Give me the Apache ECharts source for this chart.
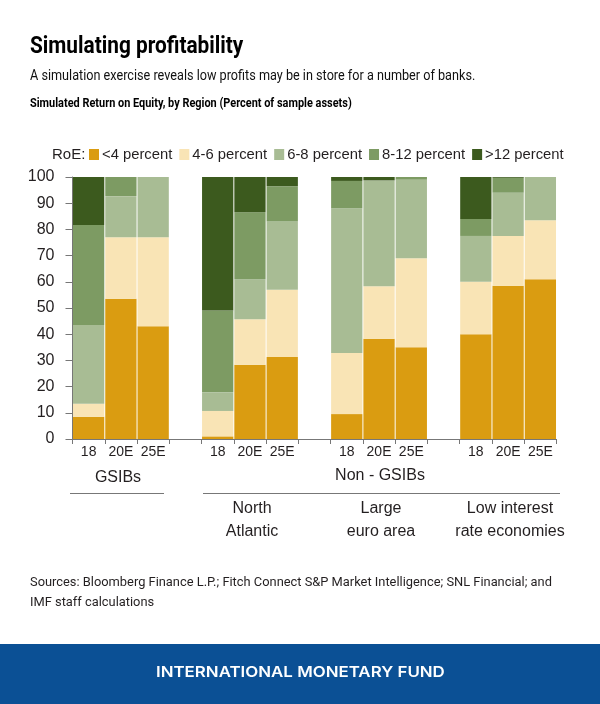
<!DOCTYPE html>
<html>
<head>
<meta charset="utf-8">
<title>Simulating profitability</title>
<script src="https://cdn.jsdelivr.net/npm/echarts@6/dist/echarts.min.js"></script>
<style>
  html, body { margin: 0; padding: 0; background: #fff; }
  #chart { width: 600px; height: 704px; }
</style>
</head>
<body>
<div id="chart"></div>
<script>
// empty slots keep the gaps between the bank groups
const categories = ['18', '20E', '25E', '', '18', '20E', '25E', '', '18', '20E', '25E', '', '18', '20E', '25E'];

const under4 = [8.5, 53.5, 43, null, 1, 28.3, 31.3, null, 9.5, 38.3, 35, null, 40, 58.5, 61];
const from4to6 = [5, 23.5, 34, null, 9.7, 17.4, 25.7, null, 23.3, 20, 34, null, 20, 19, 22.5];
const from6to8 = [30, 15.7, 23, null, 7.1, 15.3, 26, null, 55.2, 40.4, 30, null, 17.5, 16.5, 16.5];
const from8to12 = [38.2, 7.3, 0, null, 31.2, 25.5, 13.5, null, 10.5, 0, 1, null, 6.5, 5.7, 0];
const over12 = [18.3, 0, 0, null, 51, 13.5, 3.5, null, 1.5, 1.3, 0, null, 16, 0.3, 0];

const seriesNames = ['<4 percent', '4-6 percent', '6-8 percent', '8-12 percent', '>12 percent'];
const seriesValues = [under4, from4to6, from6to8, from8to12, over12];
const seriesColors = ['#da9c11', '#f9e4b5', '#a8bc94', '#7d9b63', '#3c5a1e'];

const yTicks = [0, 10, 20, 30, 40, 50, 60, 70, 80, 90, 100];

const chart = echarts.init(document.getElementById('chart'));

const ink = '#231f20';
const axisGrey = '#777777';
const chartFont = '"Liberation Sans", Arial, sans-serif';

// plain text helper for everything outside the plot
function label(text, x, y, font, extra) {
    return {
        type: 'text',
        x: x,
        y: y,
        style: Object.assign({ text: text, font: font, fill: ink, textVerticalAlign: 'middle' }, extra || {})
    };
}
function scaled(text, x, y, font, scaleX, extra) {
    const t = label(text, x, y, font, extra);
    t.scaleX = scaleX;
    t.originX = 0;
    return t;
}
function centred(text, x, y) {
    return label(text, x, y, '16px ' + chartFont, { textAlign: 'center' });
}
function rule(x1, x2, y) {
    return { type: 'line', shape: { x1: x1, y1: y, x2: x2, y2: y }, style: { stroke: axisGrey, lineWidth: 1 } };
}

const option = {
    backgroundColor: '#fff',
    animation: false,
    legend: {
        left: 89,
        top: 147,
        itemWidth: 10,
        itemHeight: 11,
        itemGap: 7,
        icon: 'rect',
        selectedMode: false,
        padding: 0,
        textStyle: { color: ink, fontFamily: chartFont, fontSize: 14.8, padding: [0, 0, 0, -2] },
        data: seriesNames
    },
    grid: { left: 72.5, right: 43.5, top: 177, height: 262 },
    xAxis: {
        type: 'category',
        data: categories,
        axisLine: { lineStyle: { color: axisGrey } },
        axisTick: { show: true, length: 5, interval: 0, lineStyle: { color: axisGrey } },
        axisLabel: { interval: 0, color: ink, fontFamily: chartFont, fontSize: 14, margin: 6 }
    },
    yAxis: {
        type: 'value',
        min: yTicks[0],
        max: yTicks[yTicks.length - 1],
        interval: yTicks[1] - yTicks[0],
        splitLine: { show: false },
        axisLine: { show: true, lineStyle: { color: axisGrey } },
        axisTick: { show: true, length: 7, lineStyle: { color: axisGrey } },
        axisLabel: { color: ink, fontFamily: chartFont, fontSize: 16, margin: 18 }
    },
    series: seriesNames.map((name, i) => ({
        name: name,
        type: 'bar',
        stack: 'roe',
        barCategoryGap: '3%',
        itemStyle: { color: seriesColors[i] },
        data: seriesValues[i]
    })),
    graphic: { elements: [
        scaled('Simulating profitability', 30, 47, 'bold 23px Roboto', 0.905, { fill: '#000' }),
        scaled('A simulation exercise reveals low profits may be in store for a number of banks.', 30, 76, '14px Roboto', 0.904, { fill: '#111' }),
        scaled('Simulated Return on Equity, by Region (Percent of sample assets)', 30, 104, 'bold 12px Roboto', 0.911, { fill: '#000' }),
        label('RoE:', 52, 155, '15px ' + chartFont),
        centred('GSIBs', 118, 478),
        rule(70, 164, 493.5),
        centred('Non - GSIBs', 380, 476),
        rule(203, 560, 493.5),
        centred('North', 252, 509),
        centred('Atlantic', 252, 532),
        centred('Large', 381, 509),
        centred('euro area', 381, 532),
        centred('Low interest', 510, 509),
        centred('rate economies', 510, 532),
        scaled('Sources: Bloomberg Finance L.P.; Fitch Connect S&P Market Intelligence; SNL Financial; and', 30, 583, '13px Roboto', 0.989),
        scaled('IMF staff calculations', 30, 603, '13px Roboto', 0.989),
        { type: 'rect', shape: { x: 0, y: 644, width: 600, height: 60 }, style: { fill: '#0b5095' } },
        scaled('INTERNATIONAL MONETARY FUND', 156, 672, '600 15px Inter', 1.125, { fill: '#fff' })
    ] }
};

chart.setOption(option);

window.addEventListener('resize', () => chart.resize());
</script>
</body>
</html>
